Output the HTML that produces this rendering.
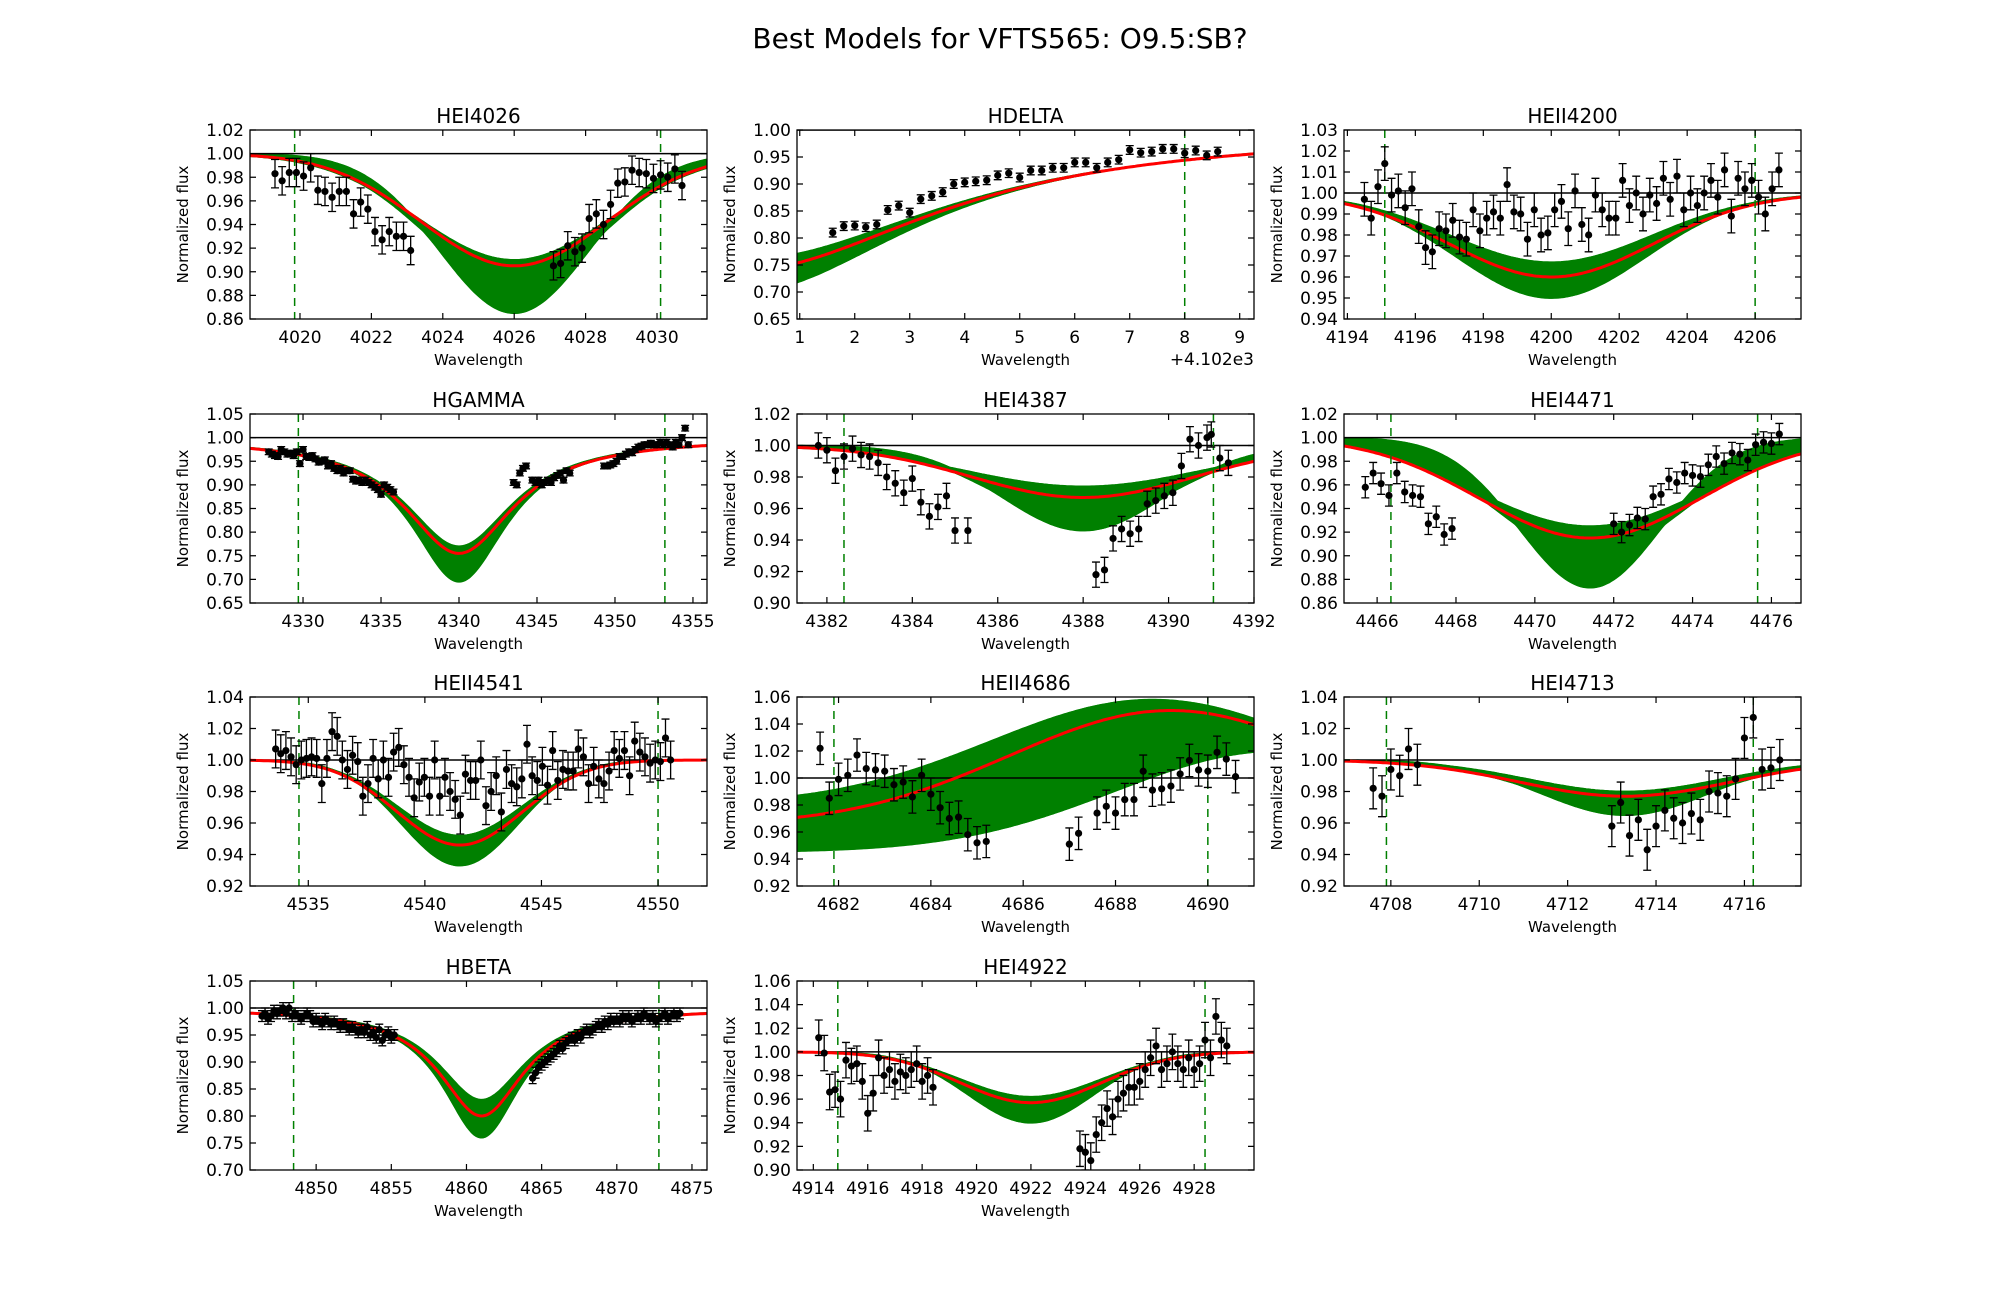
<!DOCTYPE html>
<html><head><meta charset="utf-8">
<style>
html,body{margin:0;padding:0;background:#fff;}
svg{display:block;font-family:"DejaVu Sans","Liberation Sans",sans-serif;}
</style></head>
<body>
<svg id="fig" width="2000" height="1300" viewBox="0 0 2000 1300" xmlns="http://www.w3.org/2000/svg">
<text x="1000" y="48" text-anchor="middle" font-size="28">Best Models for VFTS565: O9.5:SB?</text>
</svg>
<script>
// ---- observed data: [wavelength, flux] ----
const hei4026_points=[[4019.3,.983],[4019.5,.977],[4019.7,.984],[4019.9,.984],[4020.1,.981],[4020.3,.988],[4020.5,.969],[4020.7,.968],[4020.9,.963],[4021.1,.968],[4021.3,.968],[4021.5,.949],[4021.7,.959],[4021.9,.953],[4022.1,.934],[4022.3,.927],[4022.5,.934],[4022.7,.930],[4022.9,.930],[4023.1,.918],[4027.1,.905],[4027.3,.907],[4027.5,.922],[4027.7,.917],[4027.9,.920],[4028.1,.945],[4028.3,.949],[4028.5,.940],[4028.7,.957],[4028.9,.975],[4029.1,.976],[4029.3,.986],[4029.5,.984],[4029.7,.983],[4029.9,.979],[4030.1,.982],[4030.3,.980],[4030.5,.987],[4030.7,.973]];
const hdelta_points=[[1.6,.81],[1.8,.822],[2.0,.823],[2.2,.82],[2.4,.825],[2.6,.852],[2.8,.86],[3.0,.847],[3.2,.872],[3.4,.878],[3.6,.885],[3.8,.9],[4.0,.903],[4.2,.905],[4.4,.907],[4.6,.916],[4.8,.92],[5.0,.912],[5.2,.925],[5.4,.925],[5.6,.93],[5.8,.93],[6.0,.94],[6.2,.94],[6.4,.93],[6.6,.94],[6.8,.945],[7.0,.963],[7.2,.958],[7.4,.96],[7.6,.965],[7.8,.965],[8.0,.957],[8.2,.962],[8.4,.953],[8.6,.96]];
const heii4200_points=[[4194.5,.997],[4194.7,.988],[4194.9,1.003],[4195.1,1.014],[4195.3,.999],[4195.5,1.001],[4195.7,.993],[4195.9,1.002],[4196.1,.984],[4196.3,.974],[4196.5,.972],[4196.7,.983],[4196.9,.982],[4197.1,.987],[4197.3,.979],[4197.5,.978],[4197.7,.992],[4197.9,.982],[4198.1,.988],[4198.3,.991],[4198.5,.988],[4198.7,1.004],[4198.9,.991],[4199.1,.990],[4199.3,.978],[4199.5,.992],[4199.7,.980],[4199.9,.981],[4200.1,.992],[4200.3,.996],[4200.5,.983],[4200.7,1.001],[4200.9,.985],[4201.1,.980],[4201.3,.999],[4201.5,.992],[4201.7,.988],[4201.9,.988],[4202.1,1.006],[4202.3,.994],[4202.5,1.0],[4202.7,.990],[4202.9,.999],[4203.1,.995],[4203.3,1.007],[4203.5,.997],[4203.7,1.008],[4203.9,.992],[4204.1,1.0],[4204.3,.994],[4204.5,1.0],[4204.7,1.006],[4204.9,.998],[4205.1,1.011],[4205.3,.989],[4205.5,1.007],[4205.7,1.002],[4205.9,1.006],[4206.1,.998],[4206.3,.990],[4206.5,1.002],[4206.7,1.011]];
const hgamma_points=[[4327.8,.97],[4328,.965],[4328.2,.962],[4328.4,.96],[4328.6,.975],[4328.8,.97],[4329,.965],[4329.2,.967],[4329.4,.962],[4329.6,.97],[4329.8,.945],[4330,.975],[4330.2,.96],[4330.4,.958],[4330.6,.962],[4330.8,.955],[4331,.948],[4331.2,.95],[4331.4,.953],[4331.6,.94],[4331.8,.945],[4332,.935],[4332.2,.93],[4332.4,.935],[4332.6,.925],[4332.8,.93],[4333,.93],[4333.2,.912],[4333.4,.908],[4333.6,.91],[4333.8,.905],[4334,.91],[4334.2,.905],[4334.4,.9],[4334.6,.895],[4334.8,.89],[4335,.88],[4335.2,.9],[4335.4,.895],[4335.6,.89],[4335.8,.885],[4343.5,.905],[4343.7,.9],[4343.9,.925],[4344.1,.935],[4344.3,.94],[4344.7,.91],[4344.9,.905],[4345.1,.91],[4345.3,.9],[4345.5,.905],[4345.7,.91],[4345.9,.905],[4346.1,.915],[4346.3,.92],[4346.5,.925],[4346.7,.91],[4346.9,.93],[4347.1,.925],[4349.3,.94],[4349.5,.94],[4349.7,.942],[4349.9,.945],[4350.1,.95],[4350.3,.96],[4350.5,.96],[4350.7,.965],[4350.9,.97],[4351.1,.968],[4351.3,.975],[4351.5,.98],[4351.7,.982],[4351.9,.985],[4352.1,.985],[4352.3,.988],[4352.5,.985],[4352.7,.985],[4352.9,.99],[4353.1,.985],[4353.3,.99],[4353.5,.985],[4353.7,.98],[4353.9,.99],[4354.1,.985],[4354.3,1.0],[4354.5,1.02],[4354.7,.985]];
const hei4387_points=[[4381.8,1.0],[4382.0,.997],[4382.2,.984],[4382.4,.993],[4382.6,.998],[4382.8,.994],[4383.0,.993],[4383.2,.989],[4383.4,.98],[4383.6,.976],[4383.8,.97],[4384.0,.979],[4384.2,.964],[4384.4,.955],[4384.6,.961],[4384.8,.968],[4385.0,.946],[4385.3,.946],[4388.3,.918],[4388.5,.921],[4388.7,.941],[4388.9,.947],[4389.1,.944],[4389.3,.947],[4389.5,.963],[4389.7,.965],[4389.9,.968],[4390.1,.97],[4390.3,.987],[4390.5,1.004],[4390.7,1.0],[4390.9,1.005],[4391.0,1.007],[4391.2,.992],[4391.4,.989]];
const hei4471_points=[[4465.7,.958],[4465.9,.970],[4466.1,.961],[4466.3,.951],[4466.5,.970],[4466.7,.954],[4466.9,.951],[4467.1,.950],[4467.3,.927],[4467.5,.933],[4467.7,.918],[4467.9,.923],[4472.0,.927],[4472.2,.920],[4472.4,.926],[4472.6,.932],[4472.8,.931],[4473.0,.950],[4473.2,.952],[4473.4,.965],[4473.6,.962],[4473.8,.970],[4474.0,.968],[4474.2,.967],[4474.4,.977],[4474.6,.984],[4474.8,.978],[4475.0,.987],[4475.2,.986],[4475.4,.981],[4475.6,.994],[4475.8,.996],[4476.0,.995],[4476.2,1.003]];
const heii4541_flux=[1.007,1.004,1.006,1.002,.997,1.0,1.001,1.002,1.001,.985,1.001,1.018,1.015,1.0,.994,1.003,.999,.977,.985,1.001,.988,1.0,.989,1.005,1.008,.997,.989,.976,.986,.989,.977,1.0,.977,.989,.980,.975,.965,.991,.987,.987,1.0,.971,.980,.990,.967,.994,.985,.983,.988,1.010,.990,.987,.996,.984,1.006,.987,.994,.993,.993,1.007,1.002,.985,.996,.988,.985,.993,1.006,1.001,1.006,.990,1.012,1.005,1.002,.998,1.0,.999,1.014,1.0];
const heii4541_start=4533.6, heii4541_step=0.22;
const heii4686_points=[[4681.6,1.022],[4681.8,.985],[4682.0,.999],[4682.2,1.002],[4682.4,1.017],[4682.6,1.007],[4682.8,1.006],[4683.0,1.005],[4683.2,.995],[4683.4,.997],[4683.6,.986],[4683.8,1.002],[4684.0,.988],[4684.2,.978],[4684.4,.970],[4684.6,.971],[4684.8,.958],[4685.0,.952],[4685.2,.953],[4687.0,.951],[4687.2,.959],[4687.6,.974],[4687.8,.979],[4688.0,.974],[4688.2,.984],[4688.4,.984],[4688.6,1.005],[4688.8,.991],[4689.0,.992],[4689.2,.994],[4689.4,1.003],[4689.6,1.013],[4689.8,1.006],[4690.0,1.005],[4690.2,1.019],[4690.4,1.014],[4690.6,1.001]];
const hei4713_points=[[4707.6,.982],[4707.8,.977],[4708.0,.994],[4708.2,.990],[4708.4,1.007],[4708.6,.997],[4713.0,.958],[4713.2,.973],[4713.4,.952],[4713.6,.962],[4713.8,.943],[4714.0,.958],[4714.2,.968],[4714.4,.963],[4714.6,.960],[4714.8,.966],[4715.0,.962],[4715.2,.980],[4715.4,.979],[4715.6,.977],[4715.8,.988],[4716.0,1.014],[4716.2,1.027],[4716.4,.994],[4716.6,.995],[4716.8,1.0]];
const hbeta_points=[[4846.4,.985],[4846.6,.99],[4846.8,.98],[4847,.985],[4847.2,.995],[4847.4,.99],[4847.6,.995],[4847.8,1.0],[4848,.99],[4848.2,1.0],[4848.4,.985],[4848.6,.99],[4848.8,.985],[4849,.98],[4849.2,.985],[4849.4,.99],[4849.6,.985],[4849.8,.975],[4850,.98],[4850.2,.975],[4850.4,.97],[4850.6,.98],[4850.8,.975],[4851,.97],[4851.2,.975],[4851.4,.97],[4851.6,.965],[4851.8,.97],[4852,.965],[4852.2,.96],[4852.4,.965],[4852.6,.96],[4852.8,.955],[4853,.96],[4853.2,.955],[4853.4,.965],[4853.6,.95],[4853.8,.955],[4854,.945],[4854.2,.96],[4854.4,.94],[4854.6,.95],[4854.8,.955],[4855,.945],[4855.2,.95],[4864.4,.87],[4864.6,.88],[4864.8,.89],[4865,.895],[4865.2,.9],[4865.4,.905],[4865.6,.91],[4865.8,.915],[4866,.92],[4866.2,.93],[4866.4,.925],[4866.6,.935],[4866.8,.94],[4867,.945],[4867.2,.94],[4867.4,.95],[4867.6,.945],[4867.8,.955],[4868,.96],[4868.2,.955],[4868.4,.96],[4868.6,.965],[4868.8,.97],[4869,.965],[4869.2,.975],[4869.4,.97],[4869.6,.98],[4869.8,.975],[4870,.98],[4870.2,.975],[4870.4,.985],[4870.6,.98],[4870.8,.985],[4871,.975],[4871.2,.98],[4871.4,.985],[4871.6,.98],[4871.8,.99],[4872,.985],[4872.2,.98],[4872.4,.985],[4872.6,.975],[4872.8,.98],[4873,.985],[4873.2,.99],[4873.4,.98],[4873.6,.985],[4873.8,.99],[4874,.985],[4874.2,.99]];
const hei4922_points=[[4914.2,1.012],[4914.4,.999],[4914.6,.966],[4914.8,.968],[4915.0,.960],[4915.2,.993],[4915.4,.988],[4915.6,.99],[4915.8,.975],[4916.0,.948],[4916.2,.965],[4916.4,.995],[4916.6,.980],[4916.8,.985],[4917.0,.975],[4917.2,.983],[4917.4,.98],[4917.6,.985],[4917.8,.99],[4918.0,.975],[4918.2,.98],[4918.4,.97],[4923.8,.918],[4924.0,.915],[4924.2,.908],[4924.4,.93],[4924.6,.94],[4924.8,.952],[4925.0,.945],[4925.2,.96],[4925.4,.965],[4925.6,.97],[4925.8,.97],[4926.0,.975],[4926.2,.985],[4926.4,.995],[4926.6,1.005],[4926.8,.985],[4927.0,.99],[4927.2,1.0],[4927.4,.99],[4927.6,.985],[4927.8,.995],[4928.0,.985],[4928.2,.99],[4928.4,1.01],[4928.6,.995],[4928.8,1.03],[4929.0,1.01],[4929.2,1.005]];

// ---- model curves: [depth, centre, width, continuum] ----
const hei4026_models=[[.090,4026,2.7,1],[.100,4026,2.6,1],[.110,4026,2.5,1],[.120,4026,2.3,1],[.128,4026,2.2,1],[.135,4026,2.1,1]];
const hei4026_best=[.095,4026,2.6,1];
const hdelta_models=[[.24,0,4.4,1],[.259,0,4.2,1],[.28,0,4.0,1],[.30,0,3.8,1]];
const hdelta_best=[.259,0,4.2,1];
const heii4200_models=[[.033,4200,3.0,1],[.040,4200,3.0,1],[.045,4200,2.9,1],[.050,4200,2.8,1]];
const heii4200_best=[.040,4200,3.0,1];
const hgamma_models=[[.23,4340,4.3,1],[.25,4340,4.2,1],[.28,4340,4.0,1],[.305,4340,3.8,1]];
const hgamma_best=[.245,4340,4.3,1];
const hei4387_models=[[.026,4388,2.8,1],[.033,4388,2.6,1],[.040,4388,2.3,1],[.048,4388,2.1,1],[.054,4388,1.9,1]];
const hei4387_best=[.033,4388,2.6,1];
const hei4471_models=[[.075,4471.4,2.9,1],[.085,4471.4,2.8,1],[.100,4471.4,2.4,1],[.115,4471.4,2.0,1],[.127,4471.4,1.8,1]];
const hei4471_best=[.085,4471.4,2.8,1];
const heii4541_models=[[.048,4541.5,2.7,1],[.055,4541.5,2.7,1],[.061,4541.5,2.6,1],[.067,4541.5,2.5,1]];
const heii4541_best=[.054,4541.5,2.7,1];
const heii4686_models=[[-.078,4688.8,3.5,.98],[-.08,4689.3,3.6,.96],[-.075,4690.2,3.6,.955],[-.075,4691.5,3.5,.945]];
const heii4686_best=[-.085,4689.2,3.5,.965];
const hei4713_models=[[.020,4713.3,2.2,1],[.025,4713.3,2.3,1],[.030,4713.3,2.1,1],[.035,4713.3,1.9,1]];
const hei4713_best=[.023,4713.3,2.4,1];
const hbeta_models=[[.17,4861,3.6,1],[.20,4861,3.46,1],[.22,4861,3.3,1],[.24,4861,3.2,1]];
const hbeta_best=[.20,4861,3.46,1];
const hei4922_models=[[.038,4922,2.6,1],[.045,4922,2.5,1],[.052,4922,2.4,1],[.060,4922,2.3,1]];
const hei4922_best=[.043,4922,2.6,1];

const heii4541_points=heii4541_flux.map((f,i)=>[heii4541_start+i*heii4541_step,f]);

const NS='http://www.w3.org/2000/svg';
const svg=document.getElementById('fig');
function mk(tag,attrs,parent){const e=document.createElementNS(NS,tag);for(const k in attrs)e.setAttribute(k,attrs[k]);(parent||svg).appendChild(e);return e;}
function rng(a,b,s){const r=[];for(let v=a;v<=b+1e-9;v+=s)r.push(+v.toFixed(4));return r;}

const colL=[250,797,1344], rowT=[130,414,697,981], W=457, H=189;
const panels=[
 {id:'hei4026',title:'HEI4026',c:0,r:0,x0:4018.6,x1:4031.4,y0:.86,y1:1.02,xt:rng(4020,4030,2),yt:rng(.86,1.02,.02),yd:2,vl:[4019.85,4030.1],pts:hei4026_points,err:.012,mod:hei4026_models,best:hei4026_best,shape:'g'},
 {id:'hdelta',title:'HDELTA',c:1,r:0,x0:.95,x1:9.26,y0:.65,y1:1.0,xt:rng(1,9,1),yt:rng(.65,1.0,.05),yd:2,vl:[8],pts:hdelta_points,err:.008,mod:hdelta_models,best:hdelta_best,shape:'l',offset:'+4.102e3'},
 {id:'heii4200',title:'HEII4200',c:2,r:0,x0:4193.9,x1:4207.35,y0:.94,y1:1.03,xt:rng(4194,4206,2),yt:rng(.94,1.03,.01),yd:2,vl:[4195.1,4206.0],pts:heii4200_points,err:.008,mod:heii4200_models,best:heii4200_best,shape:'g'},
 {id:'hgamma',title:'HGAMMA',c:0,r:1,x0:4326.6,x1:4355.9,y0:.65,y1:1.05,xt:rng(4330,4355,5),yt:rng(.65,1.05,.05),yd:2,vl:[4329.7,4353.2],pts:hgamma_points,err:.006,mod:hgamma_models,best:hgamma_best,shape:'l'},
 {id:'hei4387',title:'HEI4387',c:1,r:1,x0:4381.3,x1:4392,y0:.90,y1:1.02,xt:rng(4382,4392,2),yt:rng(.90,1.02,.02),yd:2,vl:[4382.4,4391.05],pts:hei4387_points,err:.008,mod:hei4387_models,best:hei4387_best,shape:'g'},
 {id:'hei4471',title:'HEI4471',c:2,r:1,x0:4465.16,x1:4476.75,y0:.86,y1:1.02,xt:rng(4466,4476,2),yt:rng(.86,1.02,.02),yd:2,vl:[4466.35,4475.65],pts:hei4471_points,err:.009,mod:hei4471_models,best:hei4471_best,shape:'g'},
 {id:'heii4541',title:'HEII4541',c:0,r:2,x0:4532.5,x1:4552.1,y0:.92,y1:1.04,xt:rng(4535,4550,5),yt:rng(.92,1.04,.02),yd:2,vl:[4534.6,4550],pts:heii4541_points,err:.012,mod:heii4541_models,best:heii4541_best,shape:'g'},
 {id:'heii4686',title:'HEII4686',c:1,r:2,x0:4681.1,x1:4691,y0:.92,y1:1.06,xt:rng(4682,4690,2),yt:rng(.92,1.06,.02),yd:2,vl:[4681.9,4690],pts:heii4686_points,err:.012,mod:heii4686_models,best:heii4686_best,shape:'g'},
 {id:'hei4713',title:'HEI4713',c:2,r:2,x0:4706.94,x1:4717.28,y0:.92,y1:1.04,xt:rng(4708,4716,2),yt:rng(.92,1.04,.02),yd:2,vl:[4707.9,4716.2],pts:hei4713_points,err:.013,mod:hei4713_models,best:hei4713_best,shape:'g'},
 {id:'hbeta',title:'HBETA',c:0,r:3,x0:4845.6,x1:4876,y0:.70,y1:1.05,xt:rng(4850,4875,5),yt:rng(.70,1.05,.05),yd:2,vl:[4848.5,4872.8],pts:hbeta_points,err:.01,mod:hbeta_models,best:hbeta_best,shape:'l'},
 {id:'hei4922',title:'HEI4922',c:1,r:3,x0:4913.4,x1:4930.2,y0:.90,y1:1.06,xt:rng(4914,4928,2),yt:rng(.90,1.06,.02),yd:2,vl:[4914.9,4928.4],pts:hei4922_points,err:.015,mod:hei4922_models,best:hei4922_best,shape:'g'}
];

function prof(p,x,shape){const [d,c,s,b]=p;const dx=x-c;
 return shape==='l'? b-d/(1+(dx/s)*(dx/s)) : b-d*Math.exp(-dx*dx/(2*s*s));}

panels.forEach(P=>{
 const L=colL[P.c],T=rowT[P.r],R=L+W,B=T+H;
 const sx=v=>L+(v-P.x0)/(P.x1-P.x0)*W, sy=v=>B-(v-P.y0)/(P.y1-P.y0)*H;
 const g=mk('g',{});
 
 
 const cid='clip-'+P.id;
 const cp=mk('clipPath',{id:cid},g);mk('rect',{x:L,y:T,width:W,height:H},cp);
 const plot=mk('g',{'clip-path':'url(#'+cid+')'},g);
 const N=200,xs=[];for(let i=0;i<=N;i++)xs.push(P.x0+(P.x1-P.x0)*i/N);
 const lo=xs.map(x=>Math.min(...P.mod.map(m=>prof(m,x,P.shape)),prof(P.best,x,P.shape)));
 const hi=xs.map(x=>Math.max(...P.mod.map(m=>prof(m,x,P.shape)),prof(P.best,x,P.shape)));
 let d='M'+xs.map((x,i)=>sx(x).toFixed(1)+','+sy(hi[i]).toFixed(1)).join('L');
 d+='L'+xs.slice().reverse().map((x,i)=>sx(x).toFixed(1)+','+sy(lo[N-i]).toFixed(1)).join('L')+'Z';
 const band=mk('path',{d:d,fill:'#008000',stroke:'#008000','stroke-width':1.5},plot);
 
 
 P.mod.forEach((m,k)=>{
  const ln=mk('path',{d:'M'+xs.map(x=>sx(x).toFixed(1)+','+sy(prof(m,x,P.shape)).toFixed(1)).join('L'),fill:'none',stroke:'#008000','stroke-width':1.8},plot);
  
  
 });
 const cont=mk('line',{x1:L,x2:R,y1:sy(1),y2:sy(1),stroke:'#000','stroke-width':1.5},plot);
 
 
 const bl=mk('path',{d:'M'+xs.map(x=>sx(x).toFixed(1)+','+sy(prof(P.best,x,P.shape)).toFixed(1)).join('L'),fill:'none',stroke:'#ff0000','stroke-width':3},plot);
 
 
 P.vl.forEach(v=>{
  const vv=mk('line',{x1:sx(v),x2:sx(v),y1:T,y2:B,stroke:'#008000','stroke-width':1.5,'stroke-dasharray':'8,6'},plot);
  
  
 });
 P.pts.forEach(p=>{
  const px=sx(p[0]),py=sy(p[1]),e1=sy(p[1]+P.err),e2=sy(p[1]-P.err);
  const eb=mk('path',{d:`M${px},${e1}V${e2}M${px-4},${e1}H${px+4}M${px-4},${e2}H${px+4}`,stroke:'#000','stroke-width':1.3,fill:'none'},plot);
  
  
  const pt=mk('circle',{cx:px,cy:py,r:3.6,fill:'#000'},plot);
  
  
 });
 const fr=mk('rect',{x:L,y:T,width:W,height:H,fill:'none',stroke:'#000','stroke-width':1.3},g);
 
 
 P.xt.forEach(v=>{const x=sx(v);
  mk('path',{d:`M${x},${B}v-6M${x},${T}v6`,stroke:'#000','stroke-width':1.2},g);
  const t=mk('text',{x:x,y:B+24,'text-anchor':'middle','font-size':17},g);t.textContent=String(v);
  
  
 });
 P.yt.forEach(v=>{const y=sy(v);
  mk('path',{d:`M${L},${y}h6M${R},${y}h-6`,stroke:'#000','stroke-width':1.2},g);
  const t=mk('text',{x:L-6,y:y+6,'text-anchor':'end','font-size':17},g);t.textContent=v.toFixed(P.yd);
  
  
 });
 const ti=mk('text',{x:L+W/2,y:T-7,'text-anchor':'middle','font-size':20},g);ti.textContent=P.title;
 
 
 const xl=mk('text',{x:L+W/2,y:B+46,'text-anchor':'middle','font-size':15},g);xl.textContent='Wavelength';
 
 
 const yl=mk('text',{x:0,y:0,'text-anchor':'middle','font-size':15,transform:`translate(${L-62},${T+H/2}) rotate(-90)`},g);yl.textContent='Normalized flux';
 
 
 if(P.offset){const o=mk('text',{x:R,y:B+46,'text-anchor':'end','font-size':17},g);o.textContent=P.offset;
  
  }
});
</script>
</body></html>
